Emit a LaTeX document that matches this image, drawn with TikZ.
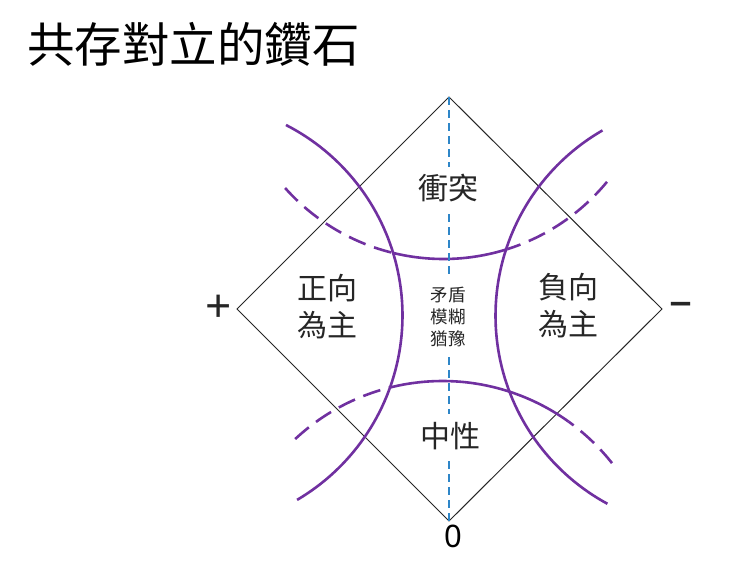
\documentclass[tikz,border=0pt]{standalone}
\usepackage{fontspec}
\setmainfont{Noto Sans}
\newfontfamily\cjk{Noto Sans CJK TC}
\newfontfamily\latin{Noto Sans}
\definecolor{arcpurple}{RGB}{112,48,160}
\definecolor{axisblue}{RGB}{46,134,200}
\definecolor{labelgray}{RGB}{38,38,38}
\begin{document}
\begin{tikzpicture}[x=1pt,y=-1pt,
  arcline/.style={draw=arcpurple, line width=2.6pt},
  arcdash/.style={arcline, dash pattern=on 18pt off 9pt},
  edgeline/.style={draw=black!85, line width=1pt},
  axisline/.style={draw=axisblue, line width=2pt, dash pattern=on 8pt off 5pt},
  biglabel/.style={font=\cjk\fontsize{30}{37}\selectfont, text=labelgray, align=center, inner sep=7pt},
  smalllabel/.style={font=\cjk\fontsize{17.5}{22}\selectfont, text=labelgray, align=center, inner xsep=4pt, inner ysep=10pt},
  signlabel/.style={font=\latin\fontsize{46}{46}\selectfont, text=labelgray, inner sep=0pt},
]
\useasboundingbox (0,0) rectangle (740,587);
\fill[white] (0,0) rectangle (740,587);
% title
\node[font=\cjk\fontsize{47.5}{50}\selectfont, anchor=west, inner sep=0pt] (title) at (27,44) {共存對立的鑽石};
% diamond
\coordinate (T) at (449,97);
\coordinate (R) at (662,309);
\coordinate (B) at (449,521);
\coordinate (L) at (237,309);
\draw[edgeline] (T) -- (R) -- (B) -- (L) -- cycle;
% vertical arcs
\draw[arcline] plot[domain=-59.5:62.9, samples=80] ({188.5+214*cos(\x)},{315.5-214*sin(\x)});
\draw[arcline] plot[domain=120:241.5, samples=80] ({709.5+214*cos(\x)},{315.7-214*sin(\x)});
% top arc
\draw[arcdash] plot[domain=0:34.8, samples=40] ({443.4+212*cos(221.7+\x)},{47-212*sin(221.7+\x)});
\draw[arcline] plot[domain=256.5:287.5, samples=40] ({443.4+212*cos(\x)},{47-212*sin(\x)});
\draw[arcdash] plot[domain=0:33, samples=40] ({443.4+212*cos(320.5-\x)},{47-212*sin(320.5-\x)});
% bottom arc
\draw[arcdash] plot[domain=0:28.7, samples=40] ({442.5+216*cos(133-\x)},{597-216*sin(133-\x)});
\draw[arcline] plot[domain=54.3:104.3, samples=60] ({442.5+216*cos(\x)},{597-216*sin(\x)});
\draw[arcdash] plot[domain=0:16, samples=30] ({442.5+216*cos(38.3+\x)},{597-216*sin(38.3+\x)});
% axis
\draw[axisline] (T) -- (B);
% labels
\node[biglabel, fill=white] (conflict) at (448,188) {衝突};
\node[biglabel] (pos) at (327,307) {正向\\為主};
\node[biglabel] (neg) at (568,306) {負向\\為主};
\node[biglabel, fill=white, inner sep=8pt] (neutral) at (450,436) {中性};
\node[smalllabel, fill=white] (vague) at (448,317) {矛盾\\模糊\\猶豫};
\node[signlabel] (plus) at (219,309) {+};
\node[signlabel] (minus) at (681,309) {–};
\node[font=\latin\fontsize{31}{31}\selectfont, text=black, inner sep=0pt] (zero) at (453,536) {0};
\end{tikzpicture}
\end{document}
